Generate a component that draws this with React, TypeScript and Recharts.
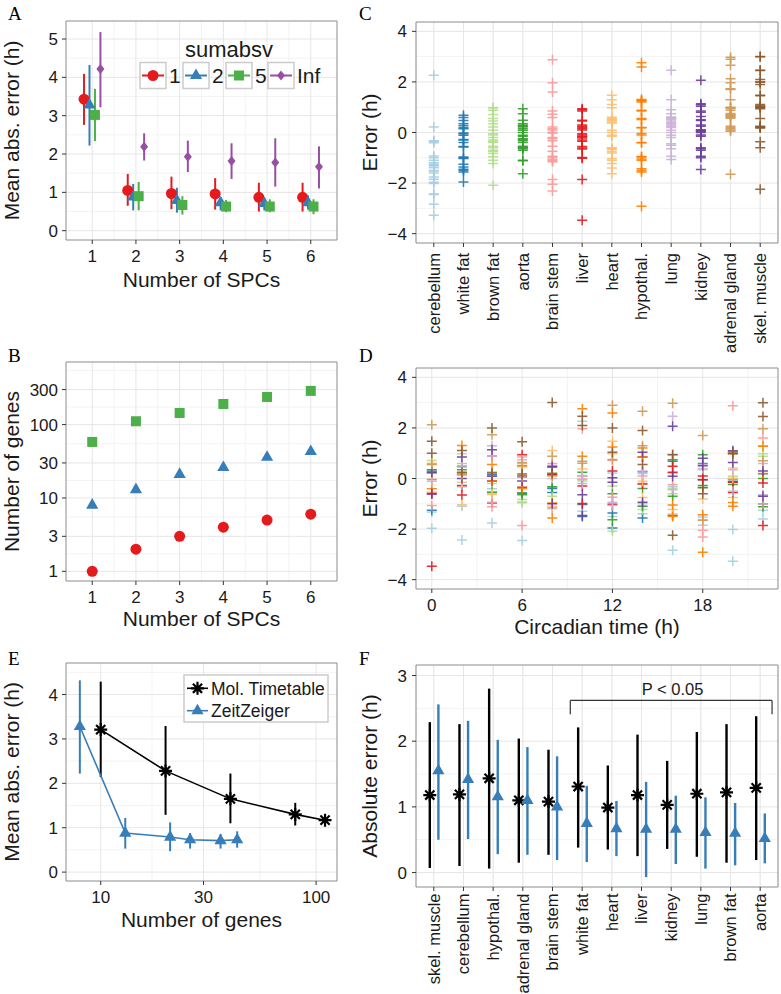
import * as React from 'react'
import {
  CartesianGrid,
  ErrorBar,
  ReferenceArea,
  ReferenceDot,
  ReferenceLine,
  Scatter,
  ScatterChart,
  XAxis,
  YAxis,
} from 'recharts'

// ---------- data ----------

const spcs = [1, 2, 3, 4, 5, 6]

// A: mean abs. error (h) per number of SPCs, one set per sumabsv level
const maeMean1 = [3.43, 1.05, 0.97, 0.96, 0.87, 0.87]
const maeLow1 = [2.76, 0.65, 0.56, 0.55, 0.5, 0.5]
const maeHigh1 = [4.09, 1.48, 1.41, 1.37, 1.25, 1.25]
const maeMean2 = [3.28, 0.88, 0.79, 0.73, 0.71, 0.73]
const maeLow2 = [2.22, 0.53, 0.47, 0.53, 0.53, 0.55]
const maeHigh2 = [4.32, 1.22, 1.12, 0.88, 0.86, 0.92]
const maeMean5 = [3.02, 0.9, 0.67, 0.63, 0.63, 0.63]
const maeLow5 = [2.34, 0.53, 0.42, 0.48, 0.48, 0.43]
const maeHigh5 = [3.7, 1.27, 0.9, 0.8, 0.82, 0.82]
const maeMeanInf = [4.22, 2.19, 1.93, 1.82, 1.78, 1.67]
const maeLowInf = [3.22, 1.83, 1.53, 1.35, 1.15, 1.1]
const maeHighInf = [5.18, 2.54, 2.35, 2.28, 2.41, 2.2]

// B: number of genes per number of SPCs
const genes1 = [1, 2, 3, 4, 5, 6]
const genes2 = [8, 13, 21, 26, 36, 43]
const genes5 = [58, 111, 144, 191, 238, 288]

// C/D: prediction error (h) per tissue, samples ordered by circadian time (two days folded)
const tissuesC = [
  'cerebellum', 'white fat', 'brown fat', 'aorta', 'brain stem', 'liver',
  'heart', 'hypothal.', 'lung', 'kidney', 'adrenal gland', 'skel. muscle',
]
const sampleCT = [0, 2, 4, 6, 8, 10, 12, 14, 16, 18, 20, 22, 0, 2, 4, 6, 8, 10, 12, 14, 16, 18, 20, 22]
const errCerebellum = [-1.32, -2.43, -1.76, -0.93, -1.2, 2.26, -1.5, -1.0, -2.84, -1.85, -3.27, -1.6, -1.97, -1.1, -0.41, -2.45, -0.35, -1.3, 0.22, -1.39, -0.33, -1.52, -2.02, -1.26]
const errWhiteFat = [0.35, -0.3, 0.15, 0.47, -0.4, -1.03, -1.36, 0.27, -1.45, -0.05, -0.02, -1.0, -1.26, -0.28, -0.97, -0.57, -0.55, -1.5, -1.96, -1.56, 0.68, 0.59, -0.11, 0.19]
const errBrownFat = [0.55, 0.45, -0.54, -0.83, 0.22, -0.1, -0.3, -1.23, -0.4, 0.35, 0.09, 0.88, 0.71, 0.98, -0.2, -0.96, -0.7, -0.05, -2.09, -1.1, -0.6, -0.35, -0.75, 0.98]
const errAorta = [0.29, 0.48, -0.54, -0.58, 0.15, 0.09, -0.6, -1.1, 0.74, -0.28, -0.24, 0.0, 0.22, 0.35, -0.11, -0.64, -0.33, 0.25, -1.63, -0.4, -0.7, 0.94, -0.15, -1.12]
const errBrainStem = [-1.07, 0.15, -1.12, 0.85, 0.59, 1.97, 0.72, -0.2, 0.22, -2.05, 2.88, 1.6, -0.54, -0.33, -0.94, -1.86, -1.16, -0.02, -0.74, 0.1, -0.25, -2.31, 0.0, -1.0]
const errLiver = [-0.61, -0.65, 0.9, 0.94, 0.15, -0.3, 0.3, 0.85, 0.25, 0.1, -0.55, -0.18, -3.47, 0.2, -0.1, -0.35, 0.45, -0.99, -1.02, -0.22, 0.48, -0.05, -0.15, -1.86]
const errHeart = [0.6, -1.04, -0.6, 0.48, 1.11, 0.38, 0.98, -0.11, -1.23, -0.81, 0.42, 1.3, 0.55, -0.15, -0.63, 0.5, -1.1, 0.09, 1.47, -0.75, -1.4, -1.63, 0.0, -0.67]
const errHypothal = [-0.04, 1.31, 0.55, 0.51, -0.97, 2.76, 2.59, 1.21, -1.05, -1.43, -1.1, 0.2, -0.41, 0.19, -0.1, -0.4, -1.56, 0.88, 1.25, 0.85, -1.5, -2.92, -0.95, 1.28]
const errLung = [0.25, 0.59, 1.3, 0.74, 0.51, 0.09, -1.07, 0.2, 2.46, 0.55, 0.35, -0.64, -0.11, 0.45, 0.9, 0.6, 0.0, -0.2, -0.94, 0.3, -0.44, 0.4, -0.5, 0.59]
const errKidney = [0.25, 0.85, 1.14, 0.1, 0.47, -0.64, 0.03, 1.04, 2.07, 0.8, 0.63, 0.3, -0.6, 0.0, 0.09, -0.1, -1.0, -1.46, -0.15, -0.94, 0.09, 0.5, 1.1, -0.7]
const errAdrenal = [2.13, 0.15, 1.73, 0.63, 0.88, 0.68, 2.9, 2.66, 2.98, 1.7, 0.98, 1.97, 0.56, 0.2, 0.25, 0.05, 0.1, 0.6, 0.75, 1.3, 0.95, -1.65, 1.0, 0.7]
const errSkel = [1.47, 1.11, 2.0, 1.45, 3.01, 2.46, 2.0, 1.9, 0.94, -0.37, 1.05, 3.0, 1.0, 0.25, 0.22, 0.18, 0.2, 2.1, 1.04, 0.55, -2.24, -0.6, 0.98, 2.45]
const tissueErrors = [
  errCerebellum, errWhiteFat, errBrownFat, errAorta, errBrainStem, errLiver,
  errHeart, errHypothal, errLung, errKidney, errAdrenal, errSkel,
]

// E: Molecular Timetable vs ZeitZeiger (ZeitZeiger reuses sumabsv = 2)
const mtGenes = [10, 20, 40, 80, 110]
const mtMean = [3.21, 2.28, 1.65, 1.3, 1.17]
const mtLow = [2.14, 1.29, 1.1, 1.05, 1.1]
const mtHigh = [4.29, 3.29, 2.22, 1.56, 1.25]

// F: absolute error (h) per tissue
const tissuesF = [
  'skel. muscle', 'cerebellum', 'hypothal.', 'adrenal gland', 'brain stem', 'white fat',
  'heart', 'liver', 'kidney', 'lung', 'brown fat', 'aorta',
]
const mtAbsMean = [1.18, 1.19, 1.435, 1.1, 1.08, 1.31, 0.99, 1.18, 1.03, 1.2, 1.22, 1.29]
const mtAbsLow = [0.07, 0.1, 0.06, 0.15, 0.27, 0.38, 0.35, 0.25, 0.36, 0.24, 0.15, 0.19]
const mtAbsHigh = [2.29, 2.26, 2.8, 2.04, 1.87, 2.21, 1.63, 2.1, 1.7, 2.14, 2.26, 2.38]
const zzAbsMean = [1.55, 1.42, 1.155, 1.1, 1.0, 0.75, 0.67, 0.66, 0.66, 0.61, 0.6, 0.52]
const zzAbsLow = [0.5, 0.51, 0.28, 0.27, 0.19, 0.16, 0.25, -0.07, 0.13, 0.06, 0.11, 0.14]
const zzAbsHigh = [2.56, 2.31, 2.02, 1.91, 1.77, 1.32, 1.09, 1.38, 1.17, 1.145, 1.06, 0.9]

// ---------- style ----------

const FONT = '"Liberation Sans", Arial, Helvetica, sans-serif'
const SERIF = '"Liberation Serif", "Times New Roman", serif'
const INK = '#1a1a1a'
const GRID_MAJOR = '#e6e6e6'
const GRID_MINOR = '#f3f3f3'
const BORDER = '#8c8c8c'
const TICK = { fontSize: 17, fill: INK, fontFamily: FONT }
const TITLE = { fontSize: 21, fill: INK, fontFamily: FONT }
const ROT_SIZE = 16.5

const RED = '#E41A1C'
const BLUE = '#377EB8'
const GREEN = '#4DAF4A'
const PURPLE = '#984EA3'
const tissueColors = [
  '#A6CEE3', '#1F78B4', '#B2DF8A', '#33A02C', '#FB9A99', '#E31A1C',
  '#FDBF6F', '#FF7F00', '#CAB2D6', '#6A3D9A', '#D19A57', '#8C5A2E',
]

// ---------- markers ----------

type Pt = { cx?: number; cy?: number }

const dot = (c: string) => ({ cx = 0, cy = 0 }: Pt) => <circle cx={cx} cy={cy} r={5.5} fill={c} />
const tri = (c: string) => ({ cx = 0, cy = 0 }: Pt) => (
  <path d={`M${cx},${cy - 7}L${cx + 6.1},${cy + 3.6}L${cx - 6.1},${cy + 3.6}Z`} fill={c} />
)
const square = (c: string) => ({ cx = 0, cy = 0 }: Pt) => (
  <rect x={cx - 5} y={cy - 5} width={10} height={10} fill={c} />
)
const diamond = (c: string) => ({ cx = 0, cy = 0 }: Pt) => (
  <path d={`M${cx},${cy - 5}L${cx + 4},${cy}L${cx},${cy + 5}L${cx - 4},${cy}Z`} fill={c} />
)
const asterisk = (c: string) => ({ cx = 0, cy = 0 }: Pt) => {
  const r = 6.5
  const d = r * 0.707
  return (
    <path
      d={`M${cx - r},${cy}H${cx + r}M${cx},${cy - r}V${cy + r}M${cx - d},${cy - d}L${cx + d},${cy + d}M${cx - d},${cy + d}L${cx + d},${cy - d}`}
      stroke={c}
      strokeWidth={2.2}
      fill="none"
    />
  )
}
const plus = (c: string) => ({ cx = 0, cy = 0 }: Pt) => (
  <path d={`M${cx - 5},${cy}H${cx + 5}M${cx},${cy - 5}V${cy + 5}`} stroke={c} strokeWidth={1.5} opacity={0.9} />
)

// ---------- helpers ----------

const rows = (xs: number[], mean: number[], low: number[], high: number[], shift = 0) =>
  xs.map((x, i) => ({ x: x + shift, y: mean[i], err: [mean[i] - low[i], high[i] - mean[i]] }))

const minusSign = (v: number) => String(v).replace('-', '\u2212')

const dodge4 = [-0.1875, -0.0625, 0.0625, 0.1875]

const levelsA = [
  { name: '1', color: RED, mean: maeMean1, low: maeLow1, high: maeHigh1, shape: dot },
  { name: '2', color: BLUE, mean: maeMean2, low: maeLow2, high: maeHigh2, shape: tri },
  { name: '5', color: GREEN, mean: maeMean5, low: maeLow5, high: maeHigh5, shape: square },
  { name: 'Inf', color: PURPLE, mean: maeMeanInf, low: maeLowInf, high: maeHighInf, shape: diamond },
]

const levelsB = [
  { name: '1', color: RED, genes: genes1, shape: dot },
  { name: '2', color: BLUE, genes: genes2, shape: tri },
  { name: '5', color: GREEN, genes: genes5, shape: square },
]

const abs = (style: React.CSSProperties): React.CSSProperties => ({ position: 'absolute', ...style })

const border = (x: number[], y: number[]) => (
  <ReferenceArea x1={x[0]} x2={x[1]} y1={y[0]} y2={y[1]} fill="none" stroke={BORDER} strokeWidth={1} />
)

const yTitle = (value: string, offset: number) => ({
  value,
  angle: -90,
  position: 'insideLeft' as const,
  offset,
  style: { ...TITLE, textAnchor: 'middle' as const },
})

const xTitle = (value: string, offset: number) => ({
  value,
  position: 'insideBottom' as const,
  offset,
  style: TITLE,
})

const rotatedTick = (labels: string[]) => (props: any) => {
  const { x, y, payload } = props
  return (
    <text
      x={x}
      y={y}
      transform={`rotate(-90 ${x} ${y})`}
      textAnchor="end"
      dy="0.35em"
      fontSize={ROT_SIZE}
      fontFamily={FONT}
      fill={INK}
    >
      {labels[payload.value - 1]}
    </text>
  )
}

const cats = [1, 2, 3, 4, 5, 6, 7, 8, 9, 10, 11, 12]

// ---------- panels ----------

function PanelA() {
  const xd = [0.4, 6.6]
  const yd = [-0.243, 5.47]
  const keyX = [140, 183, 226, 268]
  return (
    <div style={abs({ left: 0, top: 0, width: 390, height: 310 })}>
      <ScatterChart width={390} height={310} margin={{ top: 21, right: 53, bottom: 20, left: 0 }}>
        <CartesianGrid stroke={GRID_MINOR} horizontalValues={[0.5, 1.5, 2.5, 3.5, 4.5]} verticalValues={[1.5, 2.5, 3.5, 4.5, 5.5]} />
        <CartesianGrid stroke={GRID_MAJOR} horizontalValues={[0, 1, 2, 3, 4, 5]} verticalValues={spcs} />
        <XAxis
          type="number" dataKey="x" domain={xd} ticks={spcs} interval={0} allowDataOverflow
          axisLine={false} tickLine={{ stroke: '#333' }} tickSize={4} tickMargin={6} tick={TICK} height={50}
          label={xTitle('Number of SPCs', 3)}
        />
        <YAxis
          type="number" dataKey="y" domain={yd} ticks={[0, 1, 2, 3, 4, 5]} interval={0} allowDataOverflow
          axisLine={false} tickLine={{ stroke: '#333' }} tickSize={4} tickMargin={4} tick={TICK} width={66}
          label={yTitle('Mean abs. error (h)', 11.5)}
        />
        {border(xd, yd)}
        {levelsA.map((s, k) => (
          <Scatter key={s.name} data={rows(spcs, s.mean, s.low, s.high, dodge4[k])} shape={s.shape(s.color)} isAnimationActive={false}>
            <ErrorBar dataKey="err" direction="y" width={0} stroke={s.color} strokeWidth={2} />
          </Scatter>
        ))}
      </ScatterChart>
      <svg width={390} height={310} style={abs({ left: 0, top: 0, pointerEvents: 'none' })}>
        <text x={229} y={56.5} textAnchor="middle" fontSize={22} fontFamily={FONT} fill={INK}>sumabsv</text>
        {levelsA.map((s, k) => (
          <g key={s.name}>
            <rect x={keyX[k]} y={62.5} width={26} height={26} fill="#fff" stroke="#cccccc" strokeWidth={1.5} />
            <line x1={keyX[k] + 2} x2={keyX[k] + 24} y1={75.5} y2={75.5} stroke={s.color} strokeWidth={2} />
            {s.shape(s.color)({ cx: keyX[k] + 13, cy: 75.5 })}
            <text x={keyX[k] + 29} y={83} fontSize={21} fontFamily={FONT} fill={INK}>{s.name}</text>
          </g>
        ))}
      </svg>
    </div>
  )
}

function PanelB() {
  const xd = [0.4, 6.6]
  const yd = [0.738, 713]
  return (
    <div style={abs({ left: 0, top: 310, width: 390, height: 330 })}>
      <ScatterChart width={390} height={330} margin={{ top: 52, right: 53, bottom: 9, left: 0 }}>
        <CartesianGrid stroke={GRID_MINOR} horizontalValues={[1.73, 5.48, 17.3, 54.8, 173, 548]} verticalValues={[1.5, 2.5, 3.5, 4.5, 5.5]} />
        <CartesianGrid stroke={GRID_MAJOR} horizontalValues={[1, 3, 10, 30, 100, 300]} verticalValues={spcs} />
        <XAxis
          type="number" dataKey="x" domain={xd} ticks={spcs} interval={0} allowDataOverflow
          axisLine={false} tickLine={{ stroke: '#333' }} tickSize={4} tickMargin={6} tick={TICK} height={50}
          label={xTitle('Number of SPCs', 5)}
        />
        <YAxis
          type="number" dataKey="y" scale="log" domain={yd} ticks={[1, 3, 10, 30, 100, 300]} interval={0} allowDataOverflow
          axisLine={false} tickLine={{ stroke: '#333' }} tickSize={4} tickMargin={4} tick={TICK} width={66}
          label={yTitle('Number of genes', 12)}
        />
        {border(xd, yd)}
        {levelsB.map((s) => (
          <Scatter
            key={s.name}
            data={spcs.map((x, i) => ({ x, y: s.genes[i] }))}
            shape={s.shape(s.color)}
            isAnimationActive={false}
          />
        ))}
      </ScatterChart>
    </div>
  )
}

function PanelC() {
  const xd = [0.4, 12.6]
  const yd = [-4.37, 4.37]
  return (
    <div style={abs({ left: 350, top: 0, width: 431, height: 360 })}>
      <ScatterChart width={431} height={360} margin={{ top: 22, right: 3, bottom: 30, left: 0 }}>
        <CartesianGrid stroke={GRID_MINOR} horizontalValues={[-3, -1, 1, 3]} verticalValues={[]} />
        <CartesianGrid stroke={GRID_MAJOR} horizontalValues={[-4, -2, 0, 2, 4]} verticalValues={cats} />
        <XAxis
          type="number" dataKey="x" domain={xd} ticks={cats} interval={0} allowDataOverflow
          axisLine={false} tickLine={{ stroke: '#333' }} tickSize={4} tickMargin={6} height={87}
          tick={rotatedTick(tissuesC)}
        />
        <YAxis
          type="number" dataKey="y" domain={yd} ticks={[-4, -2, 0, 2, 4]} interval={0} allowDataOverflow
          axisLine={false} tickLine={{ stroke: '#333' }} tickSize={4} tickMargin={5} tick={TICK} width={66}
          tickFormatter={minusSign} label={yTitle('Error (h)', 20)}
        />
        {border(xd, yd)}
        {tissuesC.map((t, k) => (
          <Scatter
            key={t}
            data={tissueErrors[k].map((y) => ({ x: k + 1, y }))}
            shape={plus(tissueColors[k])}
            isAnimationActive={false}
          />
        ))}
      </ScatterChart>
    </div>
  )
}

function PanelD() {
  const xd = [-1.05, 23.0]
  const yd = [-4.37, 4.37]
  return (
    <div style={abs({ left: 350, top: 330, width: 431, height: 310 })}>
      <ScatterChart width={431} height={310} margin={{ top: 38, right: 3, bottom: 1, left: 0 }}>
        <CartesianGrid stroke={GRID_MINOR} horizontalValues={[-3, -1, 1, 3]} verticalValues={[3, 9, 15, 21]} />
        <CartesianGrid stroke={GRID_MAJOR} horizontalValues={[-4, -2, 0, 2, 4]} verticalValues={[0, 6, 12, 18]} />
        <XAxis
          type="number" dataKey="x" domain={xd} ticks={[0, 6, 12, 18]} interval={0} allowDataOverflow
          axisLine={false} tickLine={{ stroke: '#333' }} tickSize={4} tickMargin={6} tick={TICK} height={50}
          label={xTitle('Circadian time (h)', 5)}
        />
        <YAxis
          type="number" dataKey="y" domain={yd} ticks={[-4, -2, 0, 2, 4]} interval={0} allowDataOverflow
          axisLine={false} tickLine={{ stroke: '#333' }} tickSize={4} tickMargin={5} tick={TICK} width={66}
          tickFormatter={minusSign} label={yTitle('Error (h)', 20)}
        />
        {border(xd, yd)}
        {tissuesC.map((t, k) => (
          <Scatter
            key={t}
            data={tissueErrors[k].map((y, i) => ({ x: sampleCT[i], y }))}
            shape={plus(tissueColors[k])}
            isAnimationActive={false}
          />
        ))}
      </ScatterChart>
    </div>
  )
}

function PanelE() {
  const xd = [6.9, 125]
  const yd = [-0.2, 4.71]
  return (
    <div style={abs({ left: 0, top: 640, width: 390, height: 354 })}>
      <ScatterChart width={390} height={354} margin={{ top: 23, right: 53, bottom: 63, left: 0 }}>
        <CartesianGrid stroke={GRID_MINOR} horizontalValues={[0.5, 1.5, 2.5, 3.5, 4.5]} verticalValues={[17.3, 54.8]} />
        <CartesianGrid stroke={GRID_MAJOR} horizontalValues={[0, 1, 2, 3, 4]} verticalValues={[10, 30, 100]} />
        <XAxis
          type="number" dataKey="x" scale="log" domain={xd} ticks={[10, 30, 100]} interval={0} allowDataOverflow
          axisLine={false} tickLine={{ stroke: '#333' }} tickSize={4} tickMargin={6} tick={TICK} height={50}
          label={xTitle('Number of genes', 4)}
        />
        <YAxis
          type="number" dataKey="y" domain={yd} ticks={[0, 1, 2, 3, 4]} interval={0} allowDataOverflow
          axisLine={false} tickLine={{ stroke: '#333' }} tickSize={4} tickMargin={4} tick={TICK} width={66}
          label={yTitle('Mean abs. error (h)', 12)}
        />
        {border(xd, yd)}
        <Scatter
          data={rows(genes2, maeMean2, maeLow2, maeHigh2)}
          shape={tri(BLUE)}
          line={{ stroke: BLUE, strokeWidth: 1.6 }}
          isAnimationActive={false}
        >
          <ErrorBar dataKey="err" direction="y" width={0} stroke={BLUE} strokeWidth={2} />
        </Scatter>
        <Scatter
          data={rows(mtGenes, mtMean, mtLow, mtHigh)}
          shape={asterisk('#000')}
          line={{ stroke: '#000', strokeWidth: 1.6 }}
          isAnimationActive={false}
        >
          <ErrorBar dataKey="err" direction="y" width={0} stroke="#000" strokeWidth={2} />
        </Scatter>
      </ScatterChart>
      <svg width={390} height={354} style={abs({ left: 0, top: 0, pointerEvents: 'none' })}>
        <rect x={184} y={35} width={144} height={47} fill="#fff" stroke="#cccccc" strokeWidth={1.5} />
        <line x1={187} x2={208} y1={48.3} y2={48.3} stroke="#000" strokeWidth={1.6} />
        {asterisk('#000')({ cx: 197.5, cy: 48.3 })}
        <text x={211} y={54.6} fontSize={17.5} fontFamily={FONT} fill={INK}>Mol. Timetable</text>
        <line x1={187} x2={208} y1={70.7} y2={70.7} stroke={BLUE} strokeWidth={1.6} />
        {tri(BLUE)({ cx: 197.5, cy: 70.7 })}
        <text x={211} y={77} fontSize={17.5} fontFamily={FONT} fill={INK}>ZeitZeiger</text>
      </svg>
    </div>
  )
}

function PanelF() {
  const xd = [0.4, 12.6]
  const yd = [-0.22, 3.16]
  return (
    <div style={abs({ left: 350, top: 640, width: 431, height: 354 })}>
      <ScatterChart width={431} height={354} margin={{ top: 25, right: 3, bottom: 0, left: 0 }}>
        <CartesianGrid stroke={GRID_MINOR} horizontalValues={[0.5, 1.5, 2.5]} verticalValues={[]} />
        <CartesianGrid stroke={GRID_MAJOR} horizontalValues={[0, 1, 2, 3]} verticalValues={cats} />
        <XAxis
          type="number" dataKey="x" domain={xd} ticks={cats} interval={0} allowDataOverflow
          axisLine={false} tickLine={{ stroke: '#333' }} tickSize={4} tickMargin={2.5} height={107}
          tick={rotatedTick(tissuesF)}
        />
        <YAxis
          type="number" dataKey="y" domain={yd} ticks={[0, 1, 2, 3]} interval={0} allowDataOverflow
          axisLine={false} tickLine={{ stroke: '#333' }} tickSize={4} tickMargin={5} tick={TICK} width={66}
          label={yTitle('Absolute error (h)', 20)}
        />
        {border(xd, yd)}
        <ReferenceLine segment={[{ x: 5.6, y: 2.62 }, { x: 12.4, y: 2.62 }]} stroke="#333" strokeWidth={1.2} />
        <ReferenceLine segment={[{ x: 5.6, y: 2.41 }, { x: 5.6, y: 2.62 }]} stroke="#333" strokeWidth={1.2} />
        <ReferenceLine segment={[{ x: 12.4, y: 2.41 }, { x: 12.4, y: 2.62 }]} stroke="#333" strokeWidth={1.2} />
        <ReferenceDot
          x={9.05} y={2.79} r={0} fill="none" stroke="none"
          label={{ value: 'P < 0.05', position: 'center', fontSize: 16.5, fontFamily: FONT, fill: INK }}
        />
        <Scatter data={rows(cats, mtAbsMean, mtAbsLow, mtAbsHigh, -0.135)} shape={asterisk('#000')} isAnimationActive={false}>
          <ErrorBar dataKey="err" direction="y" width={0} stroke="#000" strokeWidth={2.4} />
        </Scatter>
        <Scatter data={rows(cats, zzAbsMean, zzAbsLow, zzAbsHigh, 0.155)} shape={tri(BLUE)} isAnimationActive={false}>
          <ErrorBar dataKey="err" direction="y" width={0} stroke={BLUE} strokeWidth={2.4} />
        </Scatter>
      </ScatterChart>
    </div>
  )
}

export default function App() {
  const letters = [
    { t: 'A', x: 8, y: 19.5 },
    { t: 'B', x: 8, y: 361.7 },
    { t: 'C', x: 359, y: 19.5 },
    { t: 'D', x: 359, y: 361.7 },
    { t: 'E', x: 8, y: 665 },
    { t: 'F', x: 359, y: 665 },
  ]
  return (
    <div style={abs({ left: 0, top: 0, width: 781, height: 994, background: '#fff', fontFamily: FONT, overflow: 'hidden' })}>
      <PanelA />
      <PanelB />
      <PanelD />
      <PanelC />
      <PanelE />
      <PanelF />
      <svg width={781} height={994} style={abs({ left: 0, top: 0, pointerEvents: 'none' })}>
        {letters.map((l) => (
          <text key={l.t} x={l.x} y={l.y} fontSize={19} fontFamily={SERIF} fill="#000">
            {l.t}
          </text>
        ))}
      </svg>
    </div>
  )
}
